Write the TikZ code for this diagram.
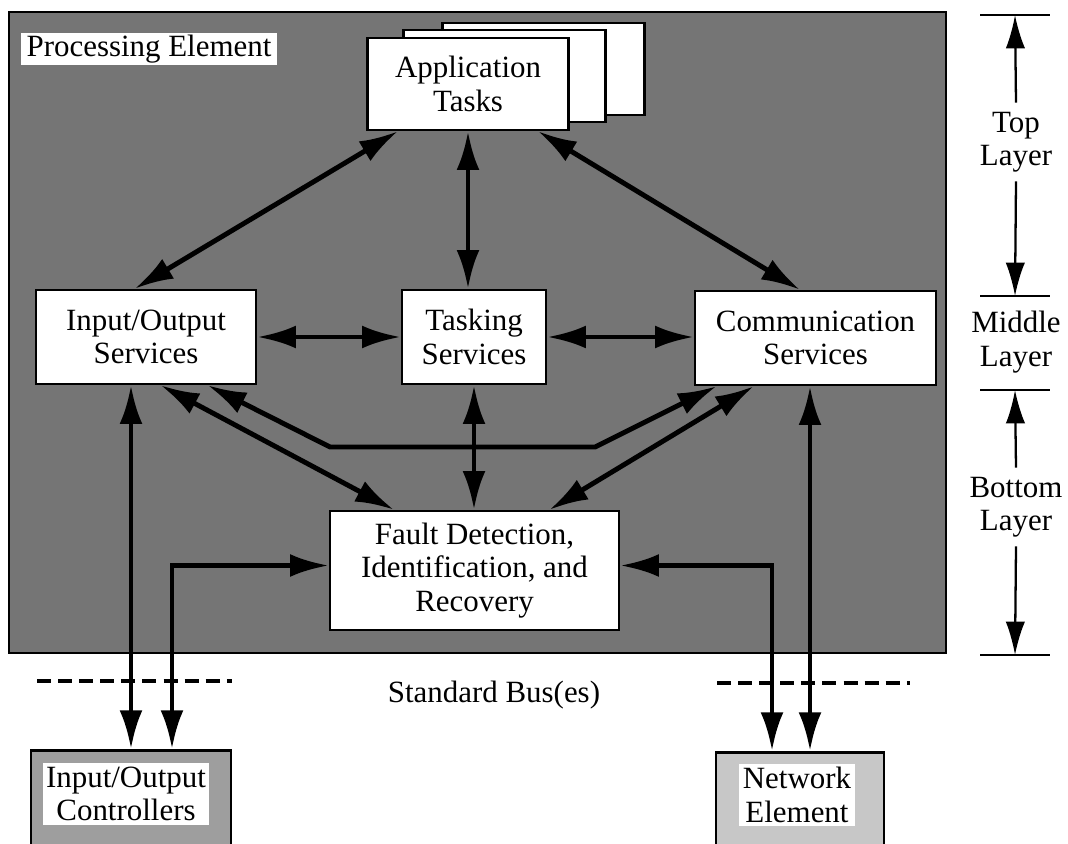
\documentclass[tikz,border=0pt]{standalone}
\usepackage{fontspec}
\setmainfont{Liberation Serif}
\usetikzlibrary{arrows.meta,calc}
\newcommand{\labelsize}{\fontsize{17.6}{19}\selectfont}

\begin{document}
\begin{tikzpicture}[x=0.02cm, y=-0.02cm, font=\labelsize,
    svcbox/.style={draw, fill=white, line width=1.5pt, align=center, inner sep=0pt},
    extbox/.style={draw, line width=1.5pt, inner sep=0pt},
    exttext/.style={fill=white, align=center, inner sep=2pt},
    conn/.style={line width=2.8pt, {Latex[length=22pt,width=13pt]}-{Latex[length=22pt,width=13pt]}},
    layerarrow/.style={line width=1.3pt, -{Latex[length=19pt,width=11pt]}},
    busline/.style={line width=2.6pt, dash pattern=on 8pt off 4pt}]
  \useasboundingbox (0,0) rectangle (1068,844);
  % processing element
  \draw[fill=black!54, line width=1.2pt] (9,12) rectangle (946,653);
  \node[fill=white, inner xsep=3pt, inner ysep=1pt, anchor=north west] (pe) at (21,33) {Processing Element};

  % application tasks, stacked
  \node[svcbox, minimum width=4.04cm, minimum height=1.84cm] (app3) at (543.5,69) {};
  \node[svcbox, minimum width=4.04cm, minimum height=1.84cm] (app2) at (504.5,76) {};
  \node[svcbox, minimum width=4.02cm, minimum height=1.84cm] (app) at (468,84) {Application\\Tasks};

  \node[svcbox, minimum width=4.4cm, minimum height=1.88cm] (io) at (146,337) {Input/Output\\Services};
  \node[svcbox, minimum width=2.88cm, minimum height=1.88cm] (task) at (474,337) {Tasking\\Services};
  \node[svcbox, minimum width=4.82cm, minimum height=1.88cm] (comm) at (815.5,338) {Communication\\Services};
  \node[svcbox, minimum width=5.78cm, minimum height=2.38cm] (fault) at (474.5,570.5) {Fault Detection,\\Identification, and\\Recovery};

  % outside the processing element
  \node[extbox, fill=black!38, minimum width=4cm, minimum height=2.2cm, anchor=north] (ctrl) at (131,749) {};
  \node[exttext] (ctrltxt) at (126,794) {Input/Output\\Controllers};
  \node[extbox, fill=black!22, minimum width=3.36cm, minimum height=2.2cm, anchor=north] (net) at (800,751) {};
  \node[exttext] (nettxt) at (797,795) {Network\\Element};

  \node (bus) at (494,695) {Standard Bus(es)};
  \draw[busline] (37,681) -- (232,681);
  \draw[busline] (717,683) -- (910,683);

  \coordinate (bendL) at (330,447);
  \coordinate (bendR) at (595,447);
  \coordinate (ctrlin) at (172,0);
  \coordinate (netin) at (772,0);
  \coordinate (netout) at (810,0);

  \draw[conn] (app.-146) -- (io.103);
  \draw[conn] (app.south) -- (app.south |- task.north);
  \draw[conn] (app.-34.5) -- (comm.108);
  \draw[conn] (io.east) -- (task.west);
  \draw[conn] (task.east) -- (task.east -| comm.west);
  \draw[conn] (task.south) -- (task.south |- fault.north);
  \draw[conn] (io.-73) -- (fault.143);
  \draw[conn] (io.-38.5) -- (bendL) -- (bendR) -- (comm.-154);
  \draw[conn] (comm.-142) -- (fault.39.5);
  \draw[conn] (ctrl.north |- io.south) -- (ctrl.north);
  \draw[conn] ([yshift=0.1cm]fault.west) -| (ctrlin |- ctrl.north);
  \draw[conn] ([yshift=0.1cm]fault.east) -| (netin |- net.north);
  \draw[conn] (netout |- comm.south) -- (netout |- net.north);

  % layer scale
  \coordinate (l0) at (1015,15);
  \coordinate (l1) at (1015,296);
  \coordinate (l2) at (1015,390);
  \coordinate (l3) at (1015,655);
  \foreach \l in {l0,l1,l2,l3}
    \draw[line width=1.4pt] ([xshift=-0.7cm]\l) -- ([xshift=0.7cm]\l);
  \node[align=center, inner sep=5pt] (toplay) at (1016,142) {Top\\Layer};
  \node[align=center] (midlay) at (1016,342) {Middle\\Layer};
  \node[align=center, inner sep=5pt] (botlay) at (1016,507) {Bottom\\Layer};
  \draw[layerarrow] (toplay.north) -- (l0);
  \draw[layerarrow] (toplay.south) -- (l1);
  \draw[layerarrow] (botlay.north) -- (l2);
  \draw[layerarrow] (botlay.south) -- (l3);
\end{tikzpicture}
\end{document}
